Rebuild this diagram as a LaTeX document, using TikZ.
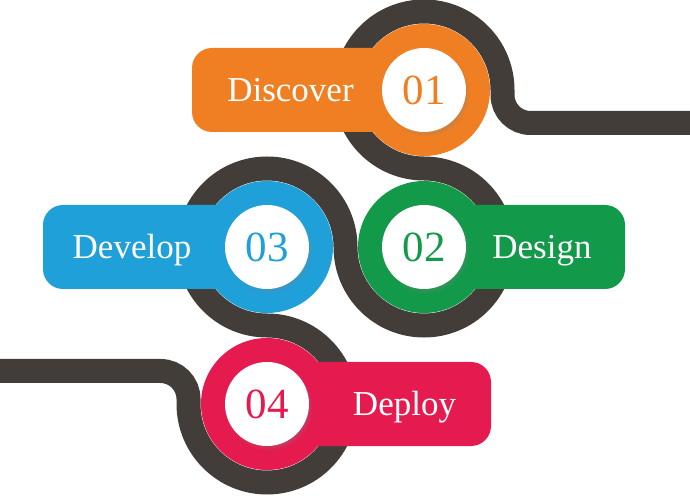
\documentclass[tikz,border=0pt]{standalone}
\usepackage{fontspec}
\setmainfont{Liberation Serif}
\usetikzlibrary{shadows}
\definecolor{road}{HTML}{433D39}
\definecolor{corange}{HTML}{EF7F22}
\definecolor{cgreen}{HTML}{129A4A}
\definecolor{cblue}{HTML}{1FA0D9}
\definecolor{cred}{HTML}{E51B4F}
\tikzset{
  roadline/.style={draw=road, line width=24pt},
  bigdisc/.style={circle, inner sep=0pt, minimum size=132pt, fill=#1},
  numdisc/.style={circle, inner sep=0pt, minimum size=84pt, fill=white, text=#1,
    font=\fontsize{43}{48}\selectfont,
    circular drop shadow={shadow scale=1.04, shadow xshift=2pt, shadow yshift=-3pt, opacity=0.35}},
  lab/.style={text=white, inner sep=0pt, anchor=base, font=\fontsize{35}{40}\selectfont},
  pill/.style={fill=#1, rounded corners=20pt}
}
\begin{document}
\begin{tikzpicture}[x=1pt,y=1pt]
\useasboundingbox (0,0) rectangle (690,495);
\clip (0,0) rectangle (690,495);
% road
\coordinate (rin) at (700,372);
\coordinate (lout) at (-10,124);
\path[roadline] (rin) -- (530.5,372) arc[start angle=270,end angle=180,radius=28]
  -- (502.5,405) arc[start angle=0,end angle=270,radius=78.5]
  arc[start angle=90,end angle=-180,radius=78.5]
  arc[start angle=0,end angle=270,radius=78.5]
  arc[start angle=90,end angle=-180,radius=78.5]
  -- (188.5,96) arc[start angle=0,end angle=90,radius=28] -- (lout);
% pills
\path[pill=corange] (192,363) rectangle (424,447);
\path[pill=cblue] (43,206) rectangle (267,290);
\path[pill=cgreen] (424,206) rectangle (625,290);
\path[pill=cred] (267,49) rectangle (491,133);
% coloured discs
\node[bigdisc=corange] (d1) at (424,405) {};
\node[bigdisc=cgreen] (d2) at (424,248) {};
\node[bigdisc=cblue] (d3) at (267,248) {};
\node[bigdisc=cred] (d4) at (267,91) {};
% number discs
\node[numdisc=corange] (n1) at (d1) {01};
\node[numdisc=cgreen] (n2) at (d2) {02};
\node[numdisc=cblue] (n3) at (d3) {03};
\node[numdisc=cred] (n4) at (d4) {04};
% labels
\node[lab] (t1) at (290.5,393.5) {Discover};
\node[lab] (t2) at (542,236.5) {Design};
\node[lab] (t3) at (132,236.5) {Develop};
\node[lab] (t4) at (404.5,79.5) {Deploy};
\end{tikzpicture}
\end{document}
